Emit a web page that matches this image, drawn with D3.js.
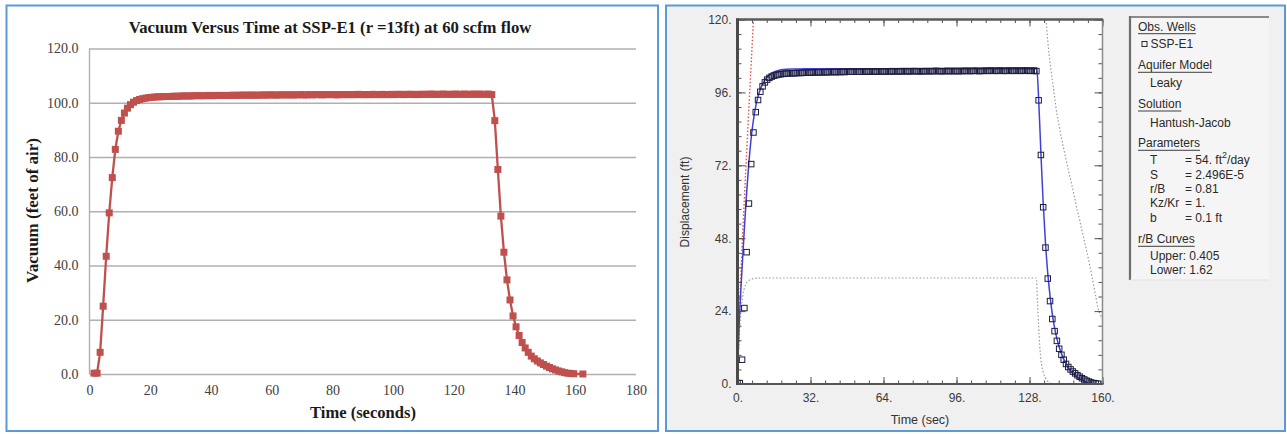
<!DOCTYPE html>
<html><head><meta charset="utf-8">
<script src="https://cdn.jsdelivr.net/npm/d3@7"></script>
<style>body{margin:0;background:#fff} svg{display:block}</style>
</head><body><svg id="c" width="1287" height="434"></svg>
<script>
// ---------------- DATA ----------------
const leftTitle = "Vacuum Versus Time at SSP-E1 (r =13ft) at 60 scfm flow";
const leftXLabel = "Time (seconds)";
const leftYLabel = "Vacuum (feet of air)";
const leftXTicks = [0,20,40,60,80,100,120,140,160,180];
const leftYTicks = [0,20,40,60,80,100,120];

const rightXLabel = "Time (sec)";
const rightYLabel = "Displacement (ft)";
const rightXTicks = [0,32,64,96,128,160];
const rightYTicks = [0,24,48,72,96,120];

// observed times as plotted in the left (Excel) chart
const obsTimeLeft = [
1.5,2.5,3.5,4.5,5.5,6.5,7.5,8.5,9.5,10.5,
11.5,12.5,13.5,14.5,15.5,16.5,17.5,18.5,19.5,20.5,
21.5,22.5,23.5,24.5,25.5,26.5,27.5,28.5,29.5,30.5,
31.5,32.5,33.5,34.5,35.5,36.5,37.5,38.5,39.5,40.5,
41.5,42.5,43.5,44.5,45.5,46.5,47.5,48.5,49.5,50.5,
51.5,52.5,53.5,54.5,55.5,56.5,57.5,58.5,59.5,60.5,
61.5,62.5,63.5,64.5,65.5,66.5,67.5,68.5,69.5,70.5,
71.5,72.5,73.5,74.5,75.5,76.5,77.5,78.5,79.5,80.5,
81.5,82.5,83.5,84.5,85.5,86.5,87.5,88.5,89.5,90.5,
91.5,92.5,93.5,94.5,95.5,96.5,97.5,98.5,99.5,100.5,
101.5,102.5,103.5,104.5,105.5,106.5,107.5,108.5,109.5,110.5,
111.5,112.5,113.5,114.5,115.5,116.5,117.5,118.5,119.5,120.5,
121.5,122.5,123.5,124.5,125.5,126.5,127.5,128.5,129.5,130.5,
131.5,132.5,133.5,134.5,135.5,136.5,137.5,138.5,139.5,140.5,
141.5,142.5,143.5,144.5,145.5,146.5,147.5,148.5,149.5,150.5,
151.5,152.5,153.5,154.5,155.5,156.5,157.5,158.5,159.5,162.5];

// observed times as plotted in the right (AQTESOLV) chart
const obsTimeRight = [
0,1,2,3,4,5,6,7,8,9,
10,11,12,13,14,15,16,17,18,19,
20,21,22,23,24,25,26,27,28,29,
30,31,32,33,34,35,36,37,38,39,
40,41,42,43,44,45,46,47,48,49,
50,51,52,53,54,55,56,57,58,59,
60,61,62,63,64,65,66,67,68,69,
70,71,72,73,74,75,76,77,78,79,
80,81,82,83,84,85,86,87,88,89,
90,91,92,93,94,95,96,97,98,99,
100,101,102,103,104,105,106,107,108,109,
110,111,112,113,114,115,116,117,118,119,
120,121,122,123,124,125,126,127,128,129,
130,131,132,133,134,135,136,137,138,139,
140,141,142,143,144,145,146,147,148,149,
150,151,152,153,154,155,156,157,158,161];

// observed vacuum / displacement (ft)
const obsVacuum = [
0.3,0.3,8.0,25.0,43.4,59.4,72.4,82.8,89.5,93.5,
96.2,98.0,99.3,100.2,100.8,101.2,101.5,101.7,101.9,102.0,
102.1,102.2,102.2,102.3,
102.3,102.3,102.4,102.4,102.4,102.5,102.5,102.5,102.5,102.6,
102.6,102.6,102.6,102.6,102.7,102.6,102.7,102.7,102.7,102.7,
102.7,102.7,102.8,102.7,102.8,102.8,102.8,102.8,102.8,102.8,
102.8,102.8,102.9,102.8,102.9,102.9,102.8,102.9,102.9,102.9,
102.9,102.9,102.9,102.9,103.0,102.9,102.9,103.0,102.9,103.0,
103.0,102.9,103.0,103.0,103.0,103.0,102.9,103.0,103.0,103.0,
103.0,103.0,103.0,103.1,103.0,103.0,103.0,103.0,103.1,103.0,
103.0,103.1,103.0,103.0,103.1,103.0,103.1,103.1,103.0,103.1,
103.1,103.1,103.0,103.1,103.1,103.1,103.1,103.2,103.1,103.1,
103.1,103.2,103.1,103.1,103.1,103.2,103.1,103.1,103.2,103.1,
103.1,103.2,103.1,103.2,103.1,103.1,103.2,103.0,
93.4,75.4,58.2,44.9,34.7,27.3,21.4,17.4,14.2,11.6,
9.6,8.0,6.6,5.6,4.8,4.1,3.5,2.9,2.4,1.9,
1.5,1.1,0.8,0.5,0.3,0.2,0.1,
0.0];

// fitted Hantush-Jacob curve (blue)
const fitTime = [0,0.5,1,2,3,4,5,6,7,8,9,10,11,12,13,14,16,18,20,25,30,131.2,
  132,133,134,135,136,137,138,139,140,141,142,143,144,145,146,147,148,149,150,151,152,153,154,155,156,157,160];
const fitDisp = [0,15,24,38,51,63,73,81,87,91.5,94.7,97,98.7,100,101,101.8,102.7,103.2,103.5,103.7,103.8,103.8,
  94,76,59.5,46.5,36.5,29,23,18.5,15,12.2,10,8.2,6.7,5.4,4.4,3.5,2.8,2.2,1.7,1.3,0.9,0.6,0.35,0.15,0.05,0,0];

// upper r/B curve (0.405), pumping (red dotted)
const upperTime = [0,0.3,0.6,1,1.5,2,2.5,3,4,5,6,7];
const upperDisp = [0,9,17,26,36,45,53,61,76,91,105.5,120];

// upper r/B curve, recovery (grey dotted)
const upperRecTime = [135.3,136,137,138,139,140,141,142,143,144,145,146,147,148,149,150,151,152,153,154,155,156,157,158,159,160];
const upperRecDisp = [120,113,106,100,94.5,89,85,81,77.5,74,70.5,67.3,64,60.5,57,54,50.5,47.3,44,40.5,36.8,33,29,25,22.8,21.5];

// lower r/B curve (1.62) (grey dotted)
const lowerTime = [0,0.5,1,1.5,2,2.5,3,4,5,6,8,10,131,131.5,132,132.5,133,134,135,136,137,138];
const lowerDisp = [0,12,19,24,27.5,30,31.5,33.3,34.1,34.5,34.8,34.9,34.9,27,19,12.5,8,4,2,0.9,0.3,0];

// legend text
const legObsHeader = "Obs. Wells";
const legWell = "SSP-E1";
const legModelHeader = "Aquifer Model";
const legModel = "Leaky";
const legSolHeader = "Solution";
const legSol = "Hantush-Jacob";
const legParHeader = "Parameters";
const legParNames = ["T","S","r/B","Kz/Kr","b"];
const legParValues = ["= 54. ft|2|/day","= 2.496E-5","= 0.81","= 1.","= 0.1 ft"];
const legCurveHeader = "r/B Curves";
const legCurves = ["Upper: 0.405","Lower: 1.62"];

// ---------------- DRAW ----------------
const svg = d3.select("#c");
function fit(sel, w){ const L = sel.node().getComputedTextLength(); const fs = parseFloat(sel.attr("font-size")); sel.attr("font-size", fs*w/L); }

// panels
svg.append("rect").attr("x",6.5).attr("y",5.5).attr("width",651.5).attr("height",425.5)
  .attr("fill","#fff").attr("stroke","#5b9bd5").attr("stroke-width",2);
svg.append("rect").attr("x",666).attr("y",5.5).attr("width",619).attr("height",425.5)
  .attr("fill","#f0f0f0").attr("stroke","#5b9bd5").attr("stroke-width",2);

// ===== LEFT CHART =====
const serif = "'Liberation Serif','Times New Roman',serif";
const xL = d3.scaleLinear().domain([0,180]).range([89.5,636]);
const yL = d3.scaleLinear().domain([0,120]).range([374,48.5]);
const gL = svg.append("g");

gL.append("g").attr("transform",`translate(${xL(0)},0)`)
  .call(d3.axisLeft(yL).tickValues(leftYTicks).tickSize(-(xL(180)-xL(0))).tickPadding(11).tickFormat(d3.format(".1f")))
  .call(g=>{ g.select(".domain").remove();
    g.selectAll(".tick line").attr("stroke","#b0b0b0").attr("stroke-width",1.4);
    g.selectAll("text").attr("font-family",serif).attr("font-size",14).attr("fill","#404040"); });
gL.append("line").attr("x1",xL(0)).attr("x2",xL(0)).attr("y1",yL(120)).attr("y2",yL(0))
  .attr("stroke","#b0b0b0").attr("stroke-width",1.4);

gL.append("g").attr("transform",`translate(0,${yL(0)})`)
  .call(d3.axisBottom(xL).tickValues(leftXTicks).tickSize(0).tickPadding(11).tickFormat(d3.format("d")))
  .call(g=>{ g.select(".domain").remove();
    g.selectAll("text").attr("font-family",serif).attr("font-size",14).attr("fill","#404040"); });

const leftPts = obsTimeLeft.map((t,i)=>[t,obsVacuum[i]]);
gL.append("path").datum(leftPts)
  .attr("d", d3.line().x(d=>xL(d[0])).y(d=>yL(d[1])))
  .attr("fill","none").attr("stroke","#c0504d").attr("stroke-width",2.3);
gL.append("g").selectAll("rect").data(leftPts).join("rect")
  .attr("x",d=>xL(d[0])-3.5).attr("y",d=>yL(d[1])-3.5).attr("width",7).attr("height",7)
  .attr("fill","#c0504d");

const tL = gL.append("text").attr("x",330).attr("y",27).attr("text-anchor","middle").attr("dominant-baseline","central")
  .attr("font-family",serif).attr("font-weight","bold").attr("font-size",15).attr("fill","#1a1a1a").text(leftTitle);
fit(tL,403);
const xtL = gL.append("text").attr("x",363).attr("y",412).attr("text-anchor","middle").attr("dominant-baseline","central")
  .attr("font-family",serif).attr("font-weight","bold").attr("font-size",16).attr("fill","#1a1a1a").text(leftXLabel);
fit(xtL,106);
const ytL = gL.append("text").attr("transform","translate(32,210.5) rotate(-90)").attr("text-anchor","middle").attr("dominant-baseline","central")
  .attr("font-family",serif).attr("font-weight","bold").attr("font-size",16).attr("fill","#1a1a1a").text(leftYLabel);
fit(ytL,145);

// ===== RIGHT CHART =====
const sans = "'Liberation Sans',Arial,sans-serif";
const xR = d3.scaleLinear().domain([0,160]).range([737.5,1102.5]);
const yR = d3.scaleLinear().domain([0,120]).range([384,19.5]);
const gR = svg.append("g");
gR.append("rect").attr("x",xR(0)).attr("y",yR(120)).attr("width",xR(160)-xR(0)).attr("height",yR(0)-yR(120)).attr("fill","#fff");

svg.append("defs").append("clipPath").attr("id","clipR").append("rect")
  .attr("x",xR(0)).attr("y",yR(120)).attr("width",xR(160)-xR(0)).attr("height",yR(0)-yR(120));
const plotR = gR.append("g").attr("clip-path","url(#clipR)");
const lineR = d3.line().x(d=>xR(d[0])).y(d=>yR(d[1])).curve(d3.curveMonotoneX);

plotR.append("path").datum(lowerTime.map((t,i)=>[t,lowerDisp[i]])).attr("d",lineR)
  .attr("fill","none").attr("stroke","#9a9a9a").attr("stroke-width",1.2).attr("stroke-dasharray","1.5,2");
plotR.append("path").datum(upperRecTime.map((t,i)=>[t,upperRecDisp[i]])).attr("d",lineR)
  .attr("fill","none").attr("stroke","#9a9a9a").attr("stroke-width",1.2).attr("stroke-dasharray","1.5,2");
plotR.append("path").datum(upperTime.map((t,i)=>[t,upperDisp[i]])).attr("d",lineR)
  .attr("fill","none").attr("stroke","#e0504a").attr("stroke-width",1.4).attr("stroke-dasharray","1.5,2");
plotR.append("path").datum(fitTime.map((t,i)=>[t,fitDisp[i]])).attr("d",lineR)
  .attr("fill","none").attr("stroke","#4040d8").attr("stroke-width",1.5);
plotR.append("g").selectAll("rect").data(obsTimeRight.map((t,i)=>[t,obsVacuum[i]])).join("rect")
  .attr("x",d=>xR(d[0])-2.75).attr("y",d=>yR(d[1])-2.75).attr("width",5.5).attr("height",5.5)
  .attr("fill","none").attr("stroke","#1c1c40").attr("stroke-width",1);

// minor/major ticks on all four sides
const minorY = d3.range(0,120.001,4.8);
const minorX = d3.range(0,160.001,6.4);
function styleTicks(g){ g.select(".domain").remove(); g.selectAll(".tick line").attr("stroke","#505050").attr("stroke-width",1); }
gR.append("g").attr("transform",`translate(${xR(0)},0)`).call(d3.axisLeft(yR).tickValues(minorY).tickSize(-4).tickFormat("")).call(styleTicks);
gR.append("g").attr("transform",`translate(${xR(160)},0)`).call(d3.axisRight(yR).tickValues(minorY).tickSize(-4).tickFormat("")).call(styleTicks);
gR.append("g").attr("transform",`translate(0,${yR(0)})`).call(d3.axisBottom(xR).tickValues(minorX).tickSize(-3.5).tickFormat("")).call(styleTicks);
gR.append("g").attr("transform",`translate(0,${yR(120)})`).call(d3.axisTop(xR).tickValues(minorX).tickSize(-3.5).tickFormat("")).call(styleTicks);
gR.append("g").attr("transform",`translate(${xR(160)},0)`).call(d3.axisRight(yR).tickValues(rightYTicks).tickSize(-8).tickFormat("")).call(styleTicks);
gR.append("g").attr("transform",`translate(0,${yR(120)})`).call(d3.axisTop(xR).tickValues(rightXTicks).tickSize(-7).tickFormat("")).call(styleTicks);
gR.append("g").attr("transform",`translate(${xR(0)},0)`)
  .call(d3.axisLeft(yR).tickValues(rightYTicks).tickSize(-8).tickPadding(6).tickFormat(d=>d+"."))
  .call(styleTicks).call(g=>g.selectAll("text").attr("font-family",sans).attr("font-size",12).attr("fill","#3a3a3a"));
gR.append("g").attr("transform",`translate(0,${yR(0)})`)
  .call(d3.axisBottom(xR).tickValues(rightXTicks).tickSize(-7).tickPadding(9).tickFormat(d=>d+"."))
  .call(styleTicks).call(g=>g.selectAll("text").attr("font-family",sans).attr("font-size",12).attr("fill","#3a3a3a"));

// frame
gR.append("line").attr("x1",xR(160)).attr("x2",xR(160)).attr("y1",yR(120)).attr("y2",yR(0)).attr("stroke","#8a8a8a").attr("stroke-width",1.5);
gR.append("line").attr("x1",xR(0)-1).attr("x2",xR(160)+1).attr("y1",yR(0)).attr("y2",yR(0)).attr("stroke","#555").attr("stroke-width",2);
gR.append("line").attr("x1",xR(0)-1.5).attr("x2",xR(160)+0.5).attr("y1",yR(120)).attr("y2",yR(120)).attr("stroke","#5a5a5a").attr("stroke-width",2.5);
gR.append("line").attr("x1",xR(0)).attr("x2",xR(0)).attr("y1",yR(120)-1).attr("y2",yR(0)+1).attr("stroke","#4a4a4a").attr("stroke-width",3);

const xtR = gR.append("text").attr("x",(xR(0)+xR(160))/2).attr("y",419.5).attr("text-anchor","middle").attr("dominant-baseline","central")
  .attr("font-family",sans).attr("font-size",12.5).attr("fill","#333").text(rightXLabel);
const ytR = gR.append("text").attr("transform","translate(685,202) rotate(-90)").attr("text-anchor","middle").attr("dominant-baseline","central")
  .attr("font-family",sans).attr("font-size",12.5).attr("fill","#333").text(rightYLabel);
fit(ytR,91);

// ===== LEGEND =====
const gLeg = svg.append("g");
gLeg.append("rect").attr("x",1130).attr("y",17).attr("width",139).attr("height",263).attr("fill","#f5f5f5");
gLeg.append("line").attr("x1",1130).attr("x2",1269).attr("y1",17).attr("y2",17).attr("stroke","#8a8a8a").attr("stroke-width",2);
gLeg.append("line").attr("x1",1130).attr("x2",1130).attr("y1",16).attr("y2",280).attr("stroke","#6e6e6e").attr("stroke-width",2.2);
gLeg.append("line").attr("x1",1130).attr("x2",1269).attr("y1",280).attr("y2",280).attr("stroke","#e2e2e2").attr("stroke-width",1);
function legText(x,y,str,underline){
  const t = gLeg.append("text").attr("x",x).attr("y",y).attr("dominant-baseline","central")
    .attr("font-family",sans).attr("font-size",12).attr("fill","#2a2a2a").text(str);
  if(underline){ const w = t.node().getComputedTextLength();
    gLeg.append("line").attr("x1",x).attr("x2",x+w).attr("y1",y+7).attr("y2",y+7).attr("stroke","#2a2a2a").attr("stroke-width",0.9); }
  return t;
}
legText(1138,26.7,legObsHeader,true);
gLeg.append("rect").attr("x",1142).attr("y",41.5).attr("width",5).attr("height",5).attr("fill","none").attr("stroke","#2a2a2a").attr("stroke-width",1);
legText(1150.5,44,legWell,false);
legText(1138,65.3,legModelHeader,true);
legText(1150,83.3,legModel,false);
legText(1138,104,legSolHeader,true);
legText(1150,122.7,legSol,false);
legText(1138,143.3,legParHeader,true);
const parY = [160.3,175,189.3,203.3,217.7];
legParNames.forEach((n,i)=>{
  const nt = legText(1150,parY[i],n,false);
  const nEnd = 1150 + nt.node().getComputedTextLength();
  const vx = Math.max(1185, nEnd + 4);
  const parts = legParValues[i].split("|");
  const t = gLeg.append("text").attr("x",vx).attr("y",parY[i]).attr("dominant-baseline","central")
    .attr("font-family",sans).attr("font-size",12).attr("fill","#2a2a2a");
  t.append("tspan").text(parts[0]);
  if(parts.length>1){
    t.append("tspan").attr("font-size",9).attr("dy",-5).text(parts[1]);
    t.append("tspan").attr("dy",5).text(parts[2]);
  }
});
legText(1138,239.3,legCurveHeader,true);
legText(1150,256,legCurves[0],false);
legText(1150,270.3,legCurves[1],false);
</script></body></html>
